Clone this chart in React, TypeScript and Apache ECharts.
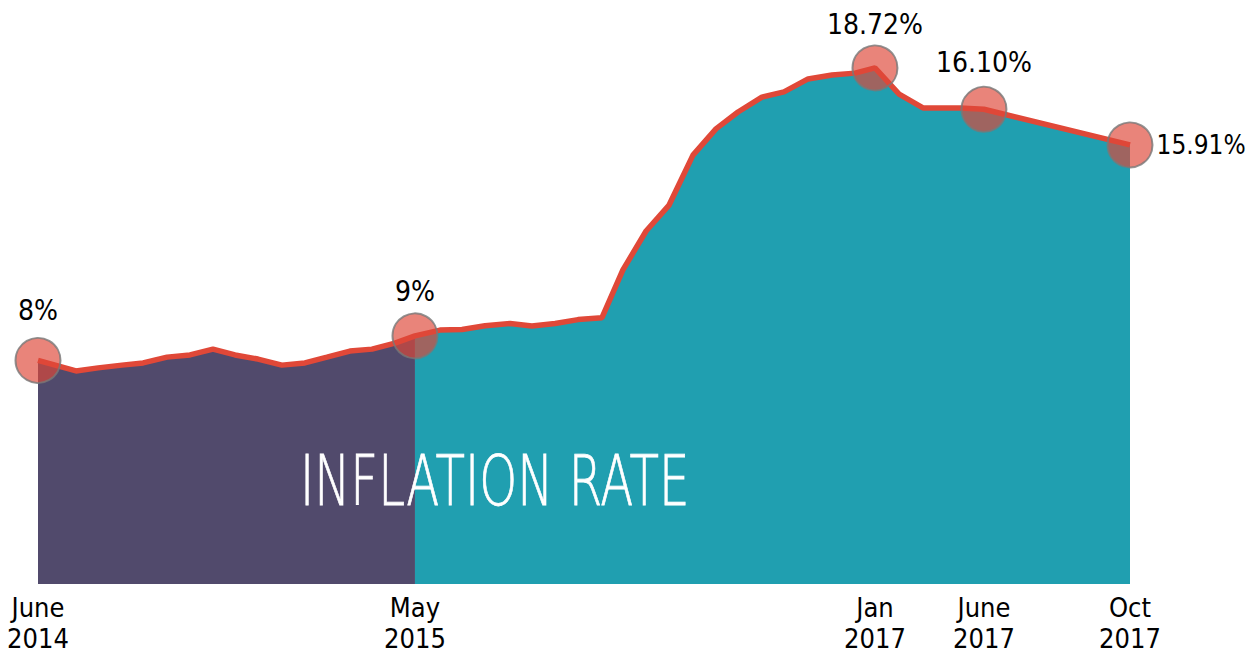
import React, { useEffect, useRef } from "react";
import * as echarts from "echarts";

// Horizontal position of each vertex (in equal drawing steps from June 2014)
const xPos = [
  0, 1.67, 2.64, 3.69, 4.62, 5.67, 6.68, 7.69, 8.66, 9.67, 10.72, 11.73, 12.7,
  13.71, 14.68, 15.69, 16.57, 17.67, 18.64, 19.65, 20.75, 21.71, 22.73, 23.74,
  24.79, 25.71, 26.73, 27.74, 28.79, 29.8, 30.77, 31.82, 32.79, 33.85, 34.9,
  35.91, 36.79, 37.85, 38.9, 40.53, 41.58, 48,
];
// Inflation rate (%) at each vertex
const rates = [
  8.1, 7.72, 7.83, 7.93, 8.01, 8.22, 8.3, 8.51, 8.3, 8.15, 7.93, 8.01, 8.22,
  8.44, 8.51, 8.73, 8.99, 9.2, 9.22, 9.36, 9.44, 9.35, 9.44, 9.58, 9.65, 11.38,
  12.79, 13.73, 15.54, 16.49, 17.1, 17.64, 17.83, 18.3, 18.44, 18.51, 18.7,
  17.75, 17.25, 17.25, 17.2, 15.91,
];
const splitIndex = 16; // May 2015

const tickValues = [0, 16.57, 36.79, 41.58, 48];
const tickLabels = ["June\n2014", "May\n2015", "Jan\n2017", "June\n2017", "Oct\n2017"];

const markerIndices = [0, 16, 36, 40, 41];
const markerLabels = ["8%", "9%", "18.72%", "16.10%", "15.91%"];
const markerLabelPos = ["top", "top", "top", "top", "right"];
const markerLabelDist = [12, 7, 6, 9, 3];
const markerLabelSize = [28, 28, 28, 28, 26];

const titleText = "INFLATION RATE";

const FONT = "'Liberation Sans Narrow', 'DejaVu Sans Condensed', sans-serif";

export default function App() {
  const ref = useRef<HTMLDivElement>(null);
  useEffect(() => {
    if (!ref.current) return;
    const chart = echarts.init(ref.current, undefined, { renderer: "svg" });
    const pts = xPos.map((x, i) => [x, rates[i]]);
    const option: any = {
      animation: false,
      grid: { left: 38, right: 122, top: 32, bottom: 73 },
      xAxis: {
        type: "value",
        min: 0,
        max: 48,
        axisLine: { show: false },
        axisTick: { show: false },
        splitLine: { show: false },
        axisLabel: {
          customValues: tickValues,
          margin: 8,
          fontFamily: FONT,
          fontSize: 27,
          lineHeight: 31,
          color: "#000",
          formatter: (v: number) => {
            let best = 0;
            tickValues.forEach((t, i) => {
              if (Math.abs(t - v) < Math.abs(tickValues[best] - v)) best = i;
            });
            return tickLabels[best];
          },
        },
      },
      yAxis: { type: "value", min: 0, max: 20, show: false },
      series: [
        {
          type: "line",
          data: pts.slice(0, splitIndex + 1),
          symbol: "none",
          lineStyle: { width: 0 },
          areaStyle: { color: "#514A6C", opacity: 1 },
          z: 1,
        },
        {
          type: "line",
          data: pts.slice(splitIndex),
          symbol: "none",
          lineStyle: { width: 0 },
          areaStyle: { color: "#209FB0", opacity: 1 },
          z: 1,
        },
        {
          type: "line",
          data: pts,
          symbol: "none",
          lineStyle: { width: 5.5, color: "#E04838" },
          z: 3,
        },
        {
          type: "scatter",
          symbolSize: 45,
          z: 4,
          itemStyle: {
            color: "rgba(222,72,57,0.67)",
            borderColor: "rgba(120,120,120,0.8)",
            borderWidth: 2,
            opacity: 1,
          },
          data: markerIndices.map((idx, i) => ({
            value: pts[idx],
            label: {
              show: true,
              position: markerLabelPos[i],
              distance: markerLabelDist[i],
              formatter: markerLabels[i],
              fontFamily: FONT,
              fontSize: markerLabelSize[i],
              color: "#000",
            },
          })),
        },
      ],
      graphic: [
        {
          type: "text",
          x: 300,
          y: 481,
          scaleX: 0.69,
          z: 10,
          style: {
            text: titleText,
            fill: "#ffffff",
            font: `200 70px 'DejaVu Sans', sans-serif`,
            stroke: "#ffffff",
            lineWidth: 0.8,
            textVerticalAlign: "middle",
          },
        },
      ],
    };
    chart.setOption(option);
    return () => chart.dispose();
  }, []);
  return (
    <div
      ref={ref}
      style={{ position: "absolute", left: 0, top: 0, width: 1252, height: 657 }}
    />
  );
}
